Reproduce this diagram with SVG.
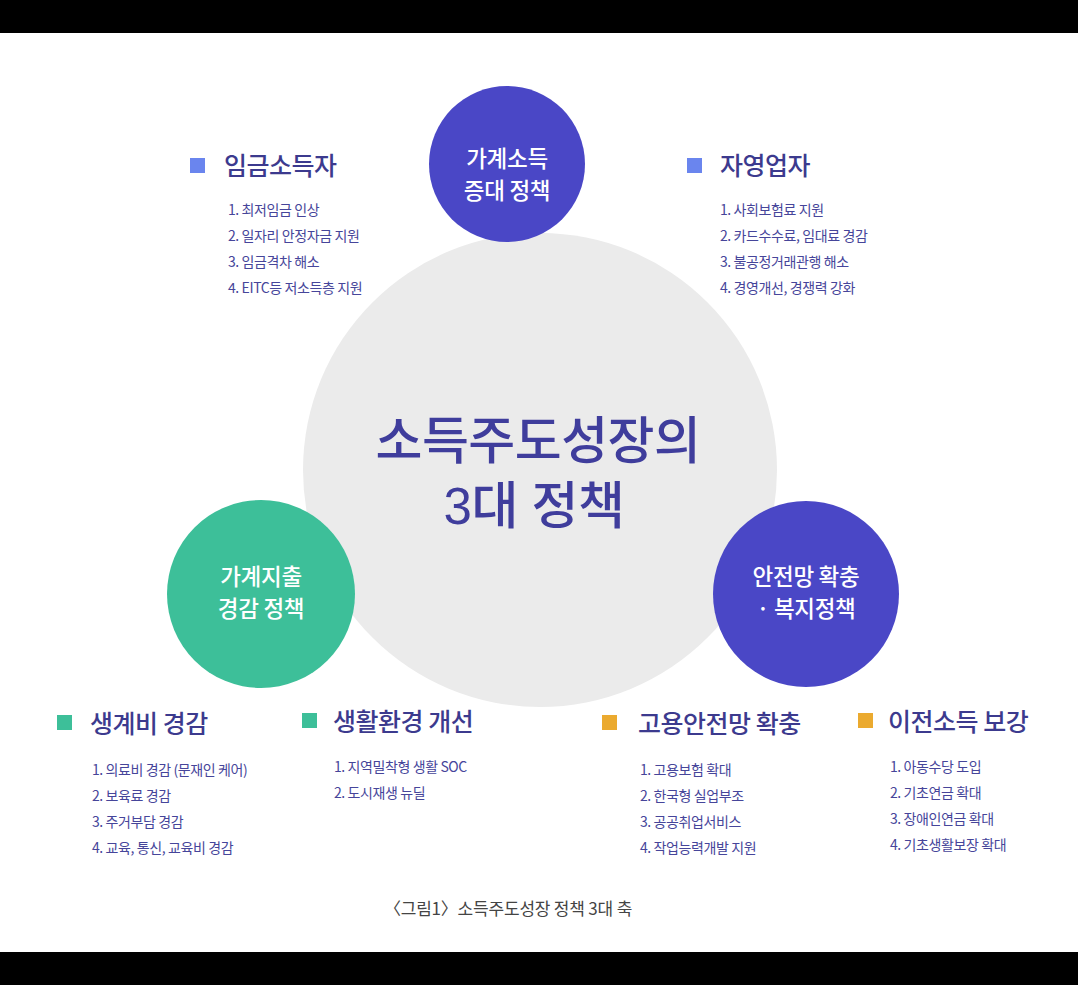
<svg xmlns="http://www.w3.org/2000/svg" width="1078" height="985" viewBox="0 0 1078 985">
<style>
text{font-family:"Noto Sans CJK KR","Noto Sans",sans-serif}
.ctext{fill:#ffffff;font-size:22.5px;font-weight:500;text-anchor:middle;letter-spacing:-0.3px}
.head{fill:#3c3a8e;font-size:25px;font-weight:500;letter-spacing:-0.5px}
.item{fill:#46459a;font-size:14px;letter-spacing:-0.4px}
.main{font-family:"Liberation Sans","Noto Sans CJK KR",sans-serif;fill:#3f3d9c;font-size:51px;font-weight:500;text-anchor:middle;letter-spacing:-0.5px}
.cap{fill:#444;font-size:17px;font-weight:400;text-anchor:middle;letter-spacing:-0.2px}
</style>
<rect width="1078" height="985" fill="#ffffff"/>
<rect x="0" y="0" width="1078" height="33" fill="#000"/>
<rect x="0" y="952" width="1078" height="33" fill="#000"/>

<g id="center">
<circle cx="540" cy="470" r="237" fill="#ebebeb"/>
<text class="main" x="538" y="459">소득주도성장의</text>
<text class="main" x="534" y="524">3대 정책</text>
</g>

<g id="c-top">
<circle cx="507" cy="164" r="78" fill="#4a47c6"/>
<text class="ctext"><tspan x="507" y="167">가계소득</tspan><tspan x="507" y="199">증대 정책</tspan></text>
</g>

<g id="c-left">
<circle cx="261" cy="594" r="94" fill="#3dbf99"/>
<text class="ctext"><tspan x="261" y="585">가계지출</tspan><tspan x="261" y="617">경감 정책</tspan></text>
</g>

<g id="c-right">
<circle cx="806" cy="594" r="93" fill="#4a47c6"/>
<text class="ctext"><tspan x="806" y="585">안전망 확충</tspan><tspan x="806" y="617">· 복지정책</tspan></text>
</g>

<g id="connectors"></g>

<g id="l-wage">
<rect x="190" y="158" width="15" height="15" fill="#6a85ee"/>
<text class="head" x="224" y="175">임금소득자</text>
<text class="item" x="228" y="215">1. 최저임금 인상</text>
<text class="item" x="228" y="241">2. 일자리 안정자금 지원</text>
<text class="item" x="228" y="267">3. 임금격차 해소</text>
<text class="item" x="228" y="293">4. EITC등 저소득층 지원</text>
</g>

<g id="l-self">
<rect x="687" y="158" width="15" height="15" fill="#6a85ee"/>
<text class="head" x="720" y="175">자영업자</text>
<text class="item" x="720" y="215">1. 사회보험료 지원</text>
<text class="item" x="720" y="241">2. 카드수수료, 임대료 경감</text>
<text class="item" x="720" y="267">3. 불공정거래관행 해소</text>
<text class="item" x="720" y="293">4. 경영개선, 경쟁력 강화</text>
</g>

<g id="l-living">
<rect x="57" y="715" width="15" height="15" fill="#3dbf99"/>
<text class="head" x="90" y="733">생계비 경감</text>
<text class="item" x="92" y="775">1. 의료비 경감 (문재인 케어)</text>
<text class="item" x="92" y="801">2. 보육료 경감</text>
<text class="item" x="92" y="827">3. 주거부담 경감</text>
<text class="item" x="92" y="853">4. 교육, 통신, 교육비 경감</text>
</g>

<g id="l-env">
<rect x="302" y="713" width="15" height="15" fill="#3dbf99"/>
<text class="head" x="333" y="731">생활환경 개선</text>
<text class="item" x="334" y="772">1. 지역밀착형 생활 SOC</text>
<text class="item" x="334" y="798">2. 도시재생 뉴딜</text>
</g>

<g id="l-emp">
<rect x="602" y="715" width="15" height="15" fill="#ebaa2f"/>
<text class="head" x="638" y="733">고용안전망 확충</text>
<text class="item" x="640" y="775">1. 고용보험 확대</text>
<text class="item" x="640" y="801">2. 한국형 실업부조</text>
<text class="item" x="640" y="827">3. 공공취업서비스</text>
<text class="item" x="640" y="853">4. 작업능력개발 지원</text>
</g>

<g id="l-transfer">
<rect x="858" y="713" width="15" height="15" fill="#ebaa2f"/>
<text class="head" x="888" y="731">이전소득 보강</text>
<text class="item" x="890" y="772">1. 아동수당 도입</text>
<text class="item" x="890" y="798">2. 기초연금 확대</text>
<text class="item" x="890" y="824">3. 장애인연금 확대</text>
<text class="item" x="890" y="850">4. 기초생활보장 확대</text>
</g>

<g id="caption">
<text class="cap" x="508" y="915">〈그림1〉소득주도성장 정책 3대 축</text>
</g>
</svg>
